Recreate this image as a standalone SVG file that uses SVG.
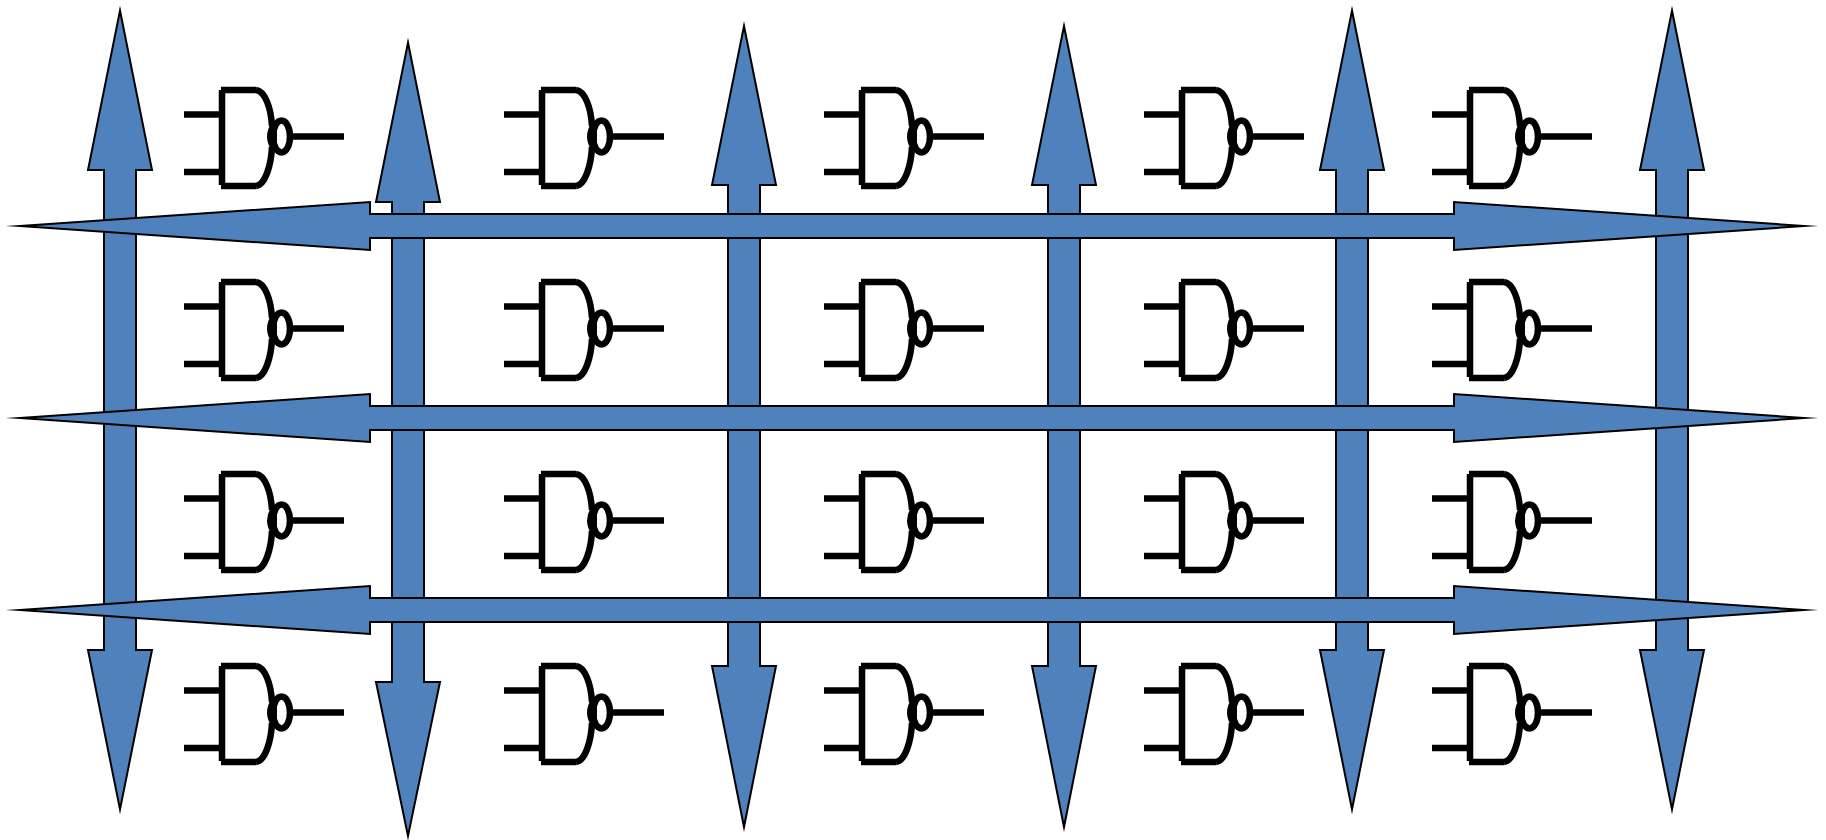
<svg xmlns="http://www.w3.org/2000/svg" width="1826" height="840" viewBox="0 0 1826 840">
<style>
.arrow{fill:#4F81BD;stroke:#000;stroke-width:2;stroke-linejoin:miter;stroke-miterlimit:20}
.gate *{fill:none;stroke:#000;stroke-width:6.500}
.gate .body{stroke-width:6.500}
.gate .lens{fill:#000;stroke:none}
</style>
<defs>
<g id="nand" class="gate">
<path d="M184 114.500H220M184 172H220M291 136.500H344"/>
<path class="body" d="M222 90V185M221 90H256M221 186H256"/>
<path class="body" d="M256 90C265 91 271 108 272 126M272 147C271 166 265 185 256 186"/>
<path class="lens" d="M272 122Q262 136.500 272 151L277 148V125Z"/>
<ellipse class="body" cx="281.500" cy="136.500" rx="8.500" ry="16"/>
</g>
</defs>
<rect width="1826" height="840" fill="#fff"/>
<g id="connectors">
<path id="v1" class="arrow" d="M120 10.500L152 170H136V650H152L120 809.500L88 650H104V170H88Z"/>
<path id="v2" class="arrow" d="M408 42.500L440 202H424V682H440L408 836L376 682H392V202H376Z"/>
<path id="v3" class="arrow" d="M744 26L776 185H760V666H776L744 827L712 666H728V185H712Z"/>
<path id="v4" class="arrow" d="M1064 26L1096 185H1080V666H1096L1064 827L1032 666H1048V185H1032Z"/>
<path id="v5" class="arrow" d="M1352 10.500L1384 170H1368V650H1384L1352 809.500L1320 650H1336V170H1320Z"/>
<path id="v6" class="arrow" d="M1672 10.500L1704 170H1688V650H1704L1672 809.500L1640 650H1656V170H1640Z"/>
<path id="h1" class="arrow" d="M20 226L370 202V214H1454V202L1804 226L1454 250V238H370V250Z"/>
<path id="h2" class="arrow" d="M20 418L370 394V406H1454V394L1804 418L1454 442V430H370V442Z"/>
<path id="h3" class="arrow" d="M20 610L370 586V598H1454V586L1804 610L1454 634V622H370V634Z"/>
</g>
<g id="g11"><use href="#nand"/></g>
<g id="g12"><use href="#nand" x="320"/></g>
<g id="g13"><use href="#nand" x="640"/></g>
<g id="g14"><use href="#nand" x="960"/></g>
<g id="g15"><use href="#nand" x="1248"/></g>
<g id="g21"><use href="#nand" y="192"/></g>
<g id="g22"><use href="#nand" x="320" y="192"/></g>
<g id="g23"><use href="#nand" x="640" y="192"/></g>
<g id="g24"><use href="#nand" x="960" y="192"/></g>
<g id="g25"><use href="#nand" x="1248" y="192"/></g>
<g id="g31"><use href="#nand" y="384"/></g>
<g id="g32"><use href="#nand" x="320" y="384"/></g>
<g id="g33"><use href="#nand" x="640" y="384"/></g>
<g id="g34"><use href="#nand" x="960" y="384"/></g>
<g id="g35"><use href="#nand" x="1248" y="384"/></g>
<g id="g41"><use href="#nand" y="576"/></g>
<g id="g42"><use href="#nand" x="320" y="576"/></g>
<g id="g43"><use href="#nand" x="640" y="576"/></g>
<g id="g44"><use href="#nand" x="960" y="576"/></g>
<g id="g45"><use href="#nand" x="1248" y="576"/></g>
</svg>
